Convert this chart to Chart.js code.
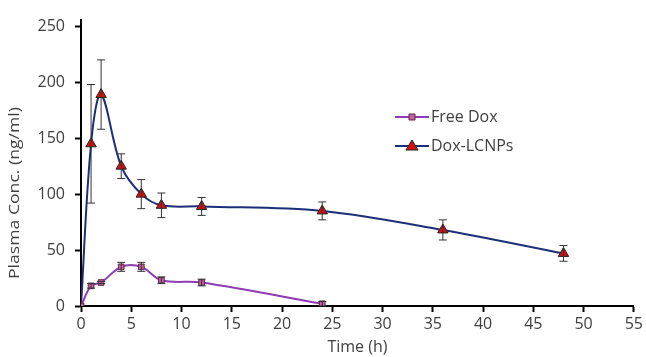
<!DOCTYPE html>
<html lang="en">
<head>
  <meta charset="UTF-8" />
  <title>Plasma concentration</title>
  <style>
    body { margin: 0; background: #fff; }
    #wrap { width: 646px; height: 357px; }
  </style>
</head>
<body>
  <div id="wrap"><canvas id="pkChart" width="646" height="357"></canvas></div>

  <script src="https://cdn.jsdelivr.net/npm/chart.js"></script>
  <script>
// values
const freeTime = [0, 1, 2, 4, 6, 8, 12, 24];
const freeConc = [0, 18, 21, 35, 35, 23, 21, 2];
const freeErr  = [0, 2, 1, 4, 4, 3, 3, 2];

const lcnpTime = [0, 1, 2, 4, 6, 8, 12, 24, 36, 48];
const lcnpConc = [0, 145, 189, 125, 100, 90, 89, 85, 68, 47];
const lcnpErr  = [0, 53, 31, 11, 13, 11, 8, 8, 9, 7];

const xTicks = [0, 5, 10, 15, 20, 25, 30, 35, 40, 45, 50, 55];
const yTicks = [0, 50, 100, 150, 200, 250];

const yTitle = "Plasma Conc. (ng/ml)";
const font = "'Open Sans', sans-serif";

const errorBars = {
  id: "errorBars",
  afterDatasetsDraw(chart) {
    const ctx = chart.ctx;
    const xs = chart.scales.x, ys = chart.scales.y;
    ctx.save();
    ctx.strokeStyle = "#333";
    ctx.lineWidth = 1;
    chart.data.datasets.forEach(ds => {
      ds.data.forEach((p, i) => {
        const e = ds.err[i];
        if (!e) return;
        const x = xs.getPixelForValue(p.x);
        const y1 = ys.getPixelForValue(p.y + e);
        const y2 = ys.getPixelForValue(p.y - e);
        ctx.beginPath();
        ctx.moveTo(x, y1); ctx.lineTo(x, y2);
        ctx.moveTo(x - 4, y1); ctx.lineTo(x + 4, y1);
        ctx.moveTo(x - 4, y2); ctx.lineTo(x + 4, y2);
        ctx.stroke();
      });
    });
    ctx.restore();
  }
};

// legend and y title drawn by hand so they sit where the original has them
const extras = {
  id: "extras",
  afterDraw(chart) {
    const ctx = chart.ctx;
    const rows = [117, 146];
    ctx.save();
    chart.data.datasets.forEach((ds, i) => {
      const y = rows[i];
      ctx.strokeStyle = ds.borderColor;
      ctx.lineWidth = 2;
      ctx.beginPath();
      ctx.moveTo(395, y); ctx.lineTo(429, y);
      ctx.stroke();
      ctx.fillStyle = ds.pointBackgroundColor;
      ctx.strokeStyle = ds.pointBorderColor;
      ctx.lineWidth = 1;
      ctx.beginPath();
      if (ds.pointStyle === "triangle") {
        ctx.moveTo(412, y - 6); ctx.lineTo(418, y + 4); ctx.lineTo(406, y + 4);
      } else {
        ctx.rect(409, y - 3, 6, 6);
      }
      ctx.closePath();
      ctx.fill(); ctx.stroke();
      ctx.fillStyle = "#404040";
      ctx.font = "16px " + font;
      ctx.textBaseline = "middle";
      ctx.fillText(ds.label, 431, y);
    });

    ctx.translate(15, 193);
    ctx.rotate(-Math.PI / 2);
    ctx.font = "15px " + font;
    const w = ctx.measureText(yTitle).width;
    ctx.scale(172 / w, 1);
    ctx.textAlign = "center";
    ctx.textBaseline = "middle";
    ctx.fillStyle = "#404040";
    ctx.fillText(yTitle, 0, 0);
    ctx.restore();
  }
};

new Chart(document.getElementById("pkChart"), {
  type: "line",
  data: {
    datasets: [
      {
        label: "Free Dox",
        data: freeTime.map((t, i) => ({ x: t, y: freeConc[i] })),
        err: freeErr,
        borderColor: "#8e3cb4",
        borderWidth: 2,
        pointStyle: "rect",
        pointRadius: 4,
        pointBackgroundColor: "#c8609f",
        pointBorderColor: "#5a2a4a",
        pointBorderWidth: 1,
        tension: 0.35
      },
      {
        label: "Dox-LCNPs",
        data: lcnpTime.map((t, i) => ({ x: t, y: lcnpConc[i] })),
        err: lcnpErr,
        borderColor: "#1b2f78",
        borderWidth: 2,
        pointStyle: "triangle",
        pointRadius: 6,
        pointBackgroundColor: "#d80f0f",
        pointBorderColor: "#222",
        pointBorderWidth: 1,
        tension: 0.35
      }
    ]
  },
  options: {
    responsive: false,
    animation: false,
    layout: { padding: { top: 2, right: 12, left: 0, bottom: 0 } },
    plugins: { legend: { display: false }, tooltip: { enabled: false } },
    scales: {
      x: {
        type: "linear",
        min: 0, max: 55,
        afterBuildTicks: s => { s.ticks = xTicks.map(v => ({ value: v })); },
        afterFit: s => { s.height = 51; },
        grid: { display: true, drawOnChartArea: false, drawTicks: true, tickLength: 6, tickWidth: 2, tickColor: "#000" },
        border: { color: "#000", width: 2 },
        ticks: { color: "#404040", font: { family: font, size: 16 }, padding: 3, maxRotation: 0 },
        title: { display: true, text: "Time (h)", color: "#404040", font: { family: font, size: 16 }, padding: { top: -6, bottom: 0 } }
      },
      y: {
        min: 0, max: 256,
        afterBuildTicks: s => { s.ticks = yTicks.map(v => ({ value: v })); },
        afterFit: s => { s.width = 81; },
        grid: { display: true, drawOnChartArea: false, drawTicks: true, tickLength: 6, tickWidth: 2, tickColor: "#000" },
        border: { color: "#000", width: 2 },
        ticks: { color: "#404040", font: { family: font, size: 16 }, padding: 10 }
      }
    }
  },
  plugins: [errorBars, extras]
});
  </script>
</body>
</html>
